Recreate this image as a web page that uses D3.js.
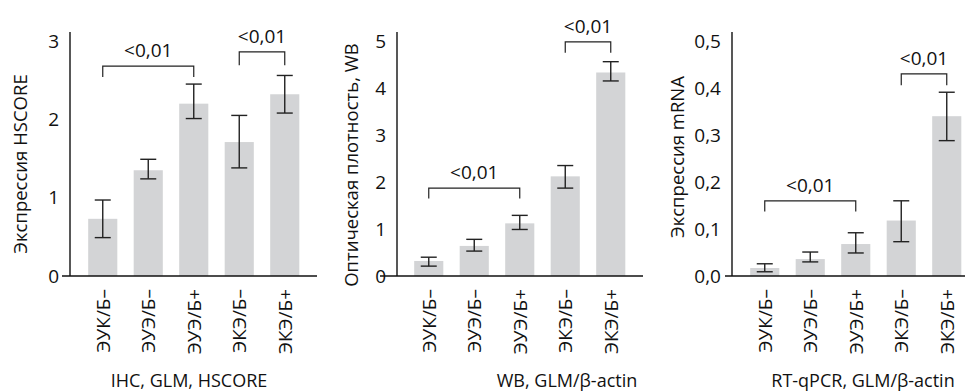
<!DOCTYPE html>
<html>
<head>
<meta charset="utf-8">
<script src="https://cdn.jsdelivr.net/npm/d3@7"></script>
<style>
  body { margin: 0; background: #fff; }
  svg text { font-family: "Open Sans", "Noto Sans", sans-serif; fill: #111; }
</style>
</head>
<body>
<div id="chart"></div>
<script>
// Categories shared by all three panels
const categories = ["ЭУК/Б–", "ЭУЭ/Б–", "ЭУЭ/Б+", "ЭКЭ/Б–", "ЭКЭ/Б+"]

// Panel 1: IHC
const ihcMean = [0.73, 1.35, 2.2, 1.71, 2.32]
const ihcLow = [0.49, 1.24, 2.01, 1.38, 2.08]
const ihcHigh = [0.97, 1.49, 2.45, 2.05, 2.56]
const ihcTicks = [0, 1, 2, 3]

// Panel 2: WB
const wbMean = [0.32, 0.64, 1.12, 2.12, 4.33]
const wbLow = [0.21, 0.53, 0.99, 1.87, 4.15]
const wbHigh = [0.40, 0.78, 1.29, 2.35, 4.56]
const wbTicks = [0, 1, 2, 3, 4, 5]

// Panel 3: RT-qPCR
const pcrMean = [0.017, 0.036, 0.068, 0.118, 0.340]
const pcrLow = [0.009, 0.030, 0.049, 0.073, 0.288]
const pcrHigh = [0.026, 0.051, 0.092, 0.160, 0.391]
const pcrTicks = [0, 0.1, 0.2, 0.3, 0.4, 0.5]

// significance brackets: [from index, to index, bracket level, leg bottom]
const ihcBrackets = [[0, 2, 2.68, 2.54], [3, 4, 2.86, 2.69]]
const wbBrackets = [[0, 2, 1.87, 1.65], [3, 4, 4.98, 4.75]]
const pcrBrackets = [[0, 2, 0.160, 0.137], [3, 4, 0.43, 0.406]]
const pLabel = "<0,01"

const panels = [
  { yLabel: "Экспрессия HSCORE", title: "IHC, GLM, HSCORE", mean: ihcMean, low: ihcLow, high: ihcHigh,
    ticks: ihcTicks, top: 3, fmt: d => d3.format("d")(d), brackets: ihcBrackets,
    axisX: 70, xStart: 62, xEnd: 317, barStart: 88, ylabX: 27, ylabY: 164, titleX: 189 },
  { yLabel: "Оптическая плотность, WB", title: "WB, GLM/β-actin", mean: wbMean, low: wbLow, high: wbHigh,
    ticks: wbTicks, top: 5, fmt: d => d3.format("d")(d), brackets: wbBrackets,
    axisX: 397, xStart: 380, xEnd: 643, barStart: 414, ylabX: 358, ylabY: 165, titleX: 567 },
  { yLabel: "Экспрессия mRNA", title: "RT-qPCR, GLM/β-actin", mean: pcrMean, low: pcrLow, high: pcrHigh,
    ticks: pcrTicks, top: 0.5, fmt: d => d3.format(".1f")(d).replace(".", ","), brackets: pcrBrackets,
    axisX: 732, xStart: 725, xEnd: 965, barStart: 750, ylabX: 684, ylabY: 157, titleX: 863 }
]

const svgWidth = 972
const svgHeight = 391
const baseY = 276
const topTickY = 41

let svg = d3.select("#chart")
  .append("svg")
  .attr("width", svgWidth)
  .attr("height", svgHeight)

panels.forEach(p => {
  let g = svg.append("g")

  let y = d3.scaleLinear()
    .domain([0, p.top])
    .range([baseY, topTickY])

  let x = d3.scaleBand()
    .domain(categories)
    .range([p.barStart - 8, p.barStart - 8 + 5 * 45.5])
    .paddingInner(0.36)
    .paddingOuter(0.18)

  // bars
  g.selectAll("rect.bar")
    .data(categories)
    .enter()
    .append("rect")
    .attr("class", "bar")
    .attr("x", d => x(d))
    .attr("width", x.bandwidth())
    .attr("y", (d, i) => y(p.mean[i]))
    .attr("height", (d, i) => baseY - y(p.mean[i]))
    .attr("fill", "#d3d4d6")

  // error bars
  let eb = g.selectAll("g.err")
    .data(categories)
    .enter()
    .append("g")
    .attr("class", "err")
    .attr("stroke", "#222")
    .attr("stroke-width", 1.4)
  eb.append("line")
    .attr("x1", d => x(d) + x.bandwidth() / 2)
    .attr("x2", d => x(d) + x.bandwidth() / 2)
    .attr("y1", (d, i) => y(p.low[i]))
    .attr("y2", (d, i) => y(p.high[i]))
  eb.append("line")
    .attr("x1", d => x(d) + x.bandwidth() / 2 - 8)
    .attr("x2", d => x(d) + x.bandwidth() / 2 + 8)
    .attr("y1", (d, i) => y(p.low[i]))
    .attr("y2", (d, i) => y(p.low[i]))
  eb.append("line")
    .attr("x1", d => x(d) + x.bandwidth() / 2 - 8)
    .attr("x2", d => x(d) + x.bandwidth() / 2 + 8)
    .attr("y1", (d, i) => y(p.high[i]))
    .attr("y2", (d, i) => y(p.high[i]))

  // y axis
  let yAxis = d3.axisLeft(y)
    .tickValues(p.ticks)
    .tickFormat(p.fmt)
    .tickSize(0)
    .tickPadding(11)
  let ya = g.append("g")
    .attr("transform", `translate(${p.axisX},0)`)
    .call(yAxis)
  ya.select(".domain").remove()
  ya.selectAll("text")
    .style("font-size", "19px")
    .attr("fill", "#111")
  g.append("line")
    .attr("x1", p.axisX).attr("x2", p.axisX)
    .attr("y1", 32).attr("y2", baseY)
    .attr("stroke", "#111").attr("stroke-width", 1.4)
  g.append("line")
    .attr("x1", p.xStart).attr("x2", p.xEnd)
    .attr("y1", baseY).attr("y2", baseY)
    .attr("stroke", "#111").attr("stroke-width", 1.4)

  // category labels (rotated)
  g.selectAll("text.cat")
    .data(categories)
    .enter()
    .append("text")
    .attr("class", "cat")
    .attr("transform", d => `translate(${x(d) + x.bandwidth() / 2 + 7},289) rotate(-90)`)
    .attr("text-anchor", "end")
    .style("font-size", "19px")
    .text(d => d)

  // y label
  g.append("text")
    .attr("transform", `translate(${p.ylabX},${p.ylabY}) rotate(-90)`)
    .attr("text-anchor", "middle")
    .style("font-size", "18.5px")
    .text(p.yLabel)

  // panel title
  g.append("text")
    .attr("x", p.titleX)
    .attr("y", 387)
    .attr("text-anchor", "middle")
    .style("font-size", "18px")
    .text(p.title)

  // significance brackets
  p.brackets.forEach(b => {
    let x1 = x(categories[b[0]]) + x.bandwidth() / 2
    let x2 = x(categories[b[1]]) + x.bandwidth() / 2
    g.append("path")
      .attr("d", `M${x1},${y(b[3])}V${y(b[2])}H${x2}V${y(b[3])}`)
      .attr("fill", "none")
      .attr("stroke", "#222")
      .attr("stroke-width", 1.2)
    g.append("text")
      .attr("x", (x1 + x2) / 2)
      .attr("y", y(b[2]) - 9)
      .attr("text-anchor", "middle")
      .style("font-size", "19px")
      .text(pLabel)
  })
})
</script>
</body>
</html>
